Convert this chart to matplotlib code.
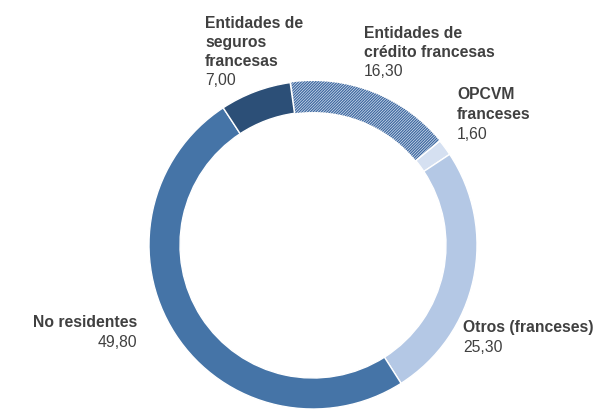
import matplotlib
matplotlib.use("Agg")
import matplotlib.pyplot as plt
from matplotlib.patches import Wedge

categories = ["Entidades de\ncrédito francesas", "OPCVM\nfranceses", "Otros (franceses)",
              "No residentes", "Entidades de\nseguros\nfrancesas"]
values = [16.30, 1.60, 25.30, 49.80, 7.00]
value_labels = ["16,30", "1,60", "25,30", "49,80", "7,00"]
colors = ["#dce5f2", "#d5e0f1", "#b4c8e5", "#4574a7", "#2c4f77"]

plt.rcParams['font.family'] = ['Liberation Sans', 'DejaVu Sans']
plt.rcParams['hatch.linewidth'] = 0.9
W, H = 599, 412
fig = plt.figure(figsize=(W / 100, H / 100), dpi=100)
ax = fig.add_axes([0, 0, 1, 1])

cx, cy = 313, H - 245
R, width = 164, 31
start = 98
wedges, _ = ax.pie(values, startangle=start, counterclock=False, radius=R, center=(cx, cy),
                   colors=colors, wedgeprops=dict(width=width, edgecolor='white', linewidth=1.0),
                   frame=True)
ax.set_xlim(0, W)
ax.set_ylim(0, H)
ax.set_aspect('equal')
ax.axis('off')

# hatch overlay on the crédito wedge
w0 = wedges[0]
hatch = Wedge((cx, cy), R, w0.theta1 + 0.4, w0.theta2 - 0.4, width=width,
              facecolor='none', edgecolor='#3d68a0', linewidth=0, hatch='////////////')
ax.add_patch(hatch)

txt = '#404040'
fs = 11.3
# (x, first baseline px, line step px, ha)
pos = [(364, 38, 19, 'left'), (457, 99, 20, 'left'), (463, 332, 20, 'left'),
       (137, 327, 20, 'right'), (205, 28, 19, 'left')]
for cat, val, (x, y0, step, ha) in zip(categories, value_labels, pos):
    lines = cat.split('\n')
    for i, ln in enumerate(lines):
        ax.text(x, H - (y0 + i * step), ln, ha=ha, va='baseline', fontsize=fs,
                fontweight='bold', color=txt)
    ax.text(x, H - (y0 + len(lines) * step), val, ha=ha, va='baseline', fontsize=fs, color=txt)

fig.savefig("out.png", dpi=100)
